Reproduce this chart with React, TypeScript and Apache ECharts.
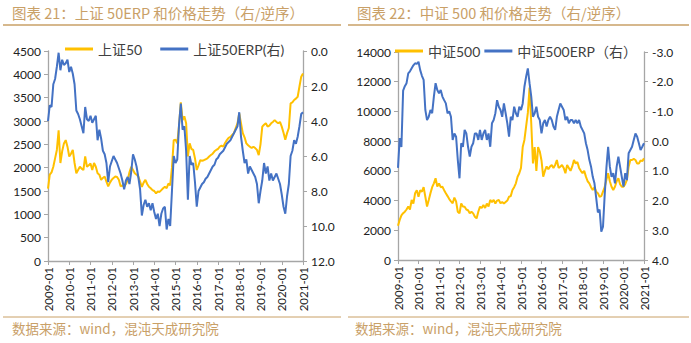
import React, { useEffect, useRef } from "react";
import * as echarts from "echarts";

// month categories 2009-01 .. 2021-01
const months: string[] = [];
for (let y = 2009; y <= 2021; y++) {
  for (let m = 1; m <= 12; m++) {
    if (y === 2021 && m > 1) break;
    months.push(`${y}-${m < 10 ? "0" + m : m}`);
  }
}

const sz50Price = [
  1550, 1850, 1900, 2020, 2200, 2380, 2800, 2100, 2350, 2520, 2590, 2450,
  2240, 2300, 2380, 2100, 1880, 1950, 2020, 1980, 1950, 2240, 2020, 2050,
  2090, 1950, 2100, 2020, 1880, 1850, 1740, 1780, 1810, 1700, 1600, 1680,
  1740, 1780, 1810, 1800, 1740, 1600, 1620, 1590, 1650, 1740, 1900, 2020,
  1950, 1880, 1850, 1810, 1700, 1590, 1680, 1740, 1650, 1590, 1560, 1520,
  1500, 1450, 1490, 1480, 1520, 1560, 1590, 1560, 1660, 1620, 2000, 2590,
  2600, 2520, 2900, 3400, 3020, 3100, 2950, 2240, 2520, 2400, 2380, 2200,
  1950, 2050, 2160, 2150, 2160, 2180, 2200, 2240, 2270, 2300, 2350, 2380,
  2400, 2450, 2470, 2450, 2530, 2590, 2640, 2660, 2700, 2740, 2850, 2950,
  3160, 2950, 2740, 2650, 2520, 2480, 2450, 2420, 2450, 2420, 2380, 2270,
  2500, 2880, 2920, 2950, 2880, 2900, 2950, 2980, 3020, 2980, 2950, 2980,
  2880, 2750, 2600, 2740, 2850, 3380, 3400, 3450, 3480, 3520, 3740, 3950,
  4020,
];

const sz50Erp = [
  4.0, 3.1, 3.2, 1.9, 1.6, 0.9, 0.1, 1.1, 0.5, 0.8, 0.7, 0.5,
  1.2, 0.9, 1.3, 1.9, 3.4, 3.6, 3.9, 4.3, 4.7, 3.2, 3.9, 4.0,
  3.7, 4.1, 3.9, 3.7, 5.1, 4.5, 5.0, 5.7, 5.9, 6.4, 7.5, 6.6,
  6.3, 6.0, 6.2, 6.4, 6.7, 7.0, 7.4, 7.9, 7.4, 7.2, 7.6, 6.9,
  5.9, 6.2, 6.6, 7.2, 7.9, 9.4, 8.8, 8.5, 8.9, 8.7, 9.1, 8.7,
  9.2, 9.6, 9.3, 10.0, 9.3, 9.0, 8.9, 10.2, 9.6, 10.0, 8.0, 6.0,
  6.4, 6.2, 4.2, 3.0, 4.5, 4.3, 5.7, 8.5, 6.0, 6.5, 6.4, 7.5,
  8.9, 8.0, 7.8, 7.6, 7.5, 7.3, 7.2, 7.0, 6.8, 6.6, 6.5, 6.2,
  6.1, 5.9, 5.8, 5.7, 5.5, 5.3, 5.2, 5.1, 4.9, 4.7, 4.5, 4.3,
  3.5, 4.9, 5.7, 6.4, 6.2, 7.0, 6.6, 6.8, 7.0, 7.2, 7.6, 8.7,
  8.0, 7.4, 6.4, 7.0, 6.6, 7.4, 7.0, 7.4, 7.2, 7.0, 7.3, 7.6,
  8.2, 8.9, 9.3, 8.3, 7.6, 6.0, 5.7, 5.1, 5.3, 4.9, 4.3, 3.6,
  3.5,
];

const zz500Price = [
  2300, 2700, 3000, 3150, 3250, 3400, 3600, 3400, 4040, 3800, 4490, 4700,
  4260, 4700, 4600, 4900, 4260, 3600, 4040, 4500, 4900, 5160, 5500, 4950,
  5150, 4900, 4930, 4700, 4490, 4300, 4100, 3950, 3820, 4200, 3950, 3250,
  3140, 3800, 3600, 3580, 3400, 3350, 3140, 3250, 3140, 2910, 2800, 3250,
  3590, 3500, 3700, 3500, 3800, 3600, 4040, 3900, 4040, 3800, 4000, 4040,
  3820, 3900, 3800, 3900, 4000, 4260, 4300, 4710, 4900, 5160, 5600, 5840,
  6200, 7600, 8080, 9000, 9900, 11600, 9200, 6500, 7600, 6000, 7600, 7300,
  6700, 5610, 6000, 6300, 6100, 6300, 6400, 6200, 6400, 6730, 6200, 6280,
  6400, 6200, 5840, 6400, 6200, 6000, 6300, 6730, 6500, 6600, 6200, 6000,
  5840, 6000, 5610, 5300, 5160, 4900, 4710, 4900, 4600, 4500, 4260, 4300,
  4600, 4900, 5400, 5840, 5300, 4930, 4710, 4930, 5300, 5500, 5100, 4930,
  4930, 5100, 5400, 6280, 6730, 6730, 6800, 6730, 6500, 6500, 6700, 6650,
  6840,
];

const zz500Erp = [
  0.9, -0.1, 0.2, -1.7, -1.85, -1.95, -2.28, -2.35, -2.45, -2.55, -2.62, -2.6,
  -2.67, -2.39, -2.2, -2.06, -1.05, -0.71, -0.82, -1.05, -0.94, -1.5, -1.95, -1.72,
  -1.61, -1.72, -1.5, -1.38, -1.27, -0.94, -1.0, -0.82, -0.04, -0.26, -0.15, 0.63,
  1.25, 0.07, 0.19, -0.38, -0.26, 0.19, 0.52, 0.19, 0.07, -0.26, -0.26, -0.04,
  -0.38, -0.04, -0.26, -0.38, -0.04, -0.26, 0.19, -0.6, -0.71, -0.94, -1.38, -1.16,
  -1.05, -0.82, -1.27, -0.94, -0.6, -0.15, -0.82, -0.71, -1.16, -0.94, -0.82, -1.16,
  -1.05, -1.27, -1.83, -2.17, -2.45, -1.95, -1.5, -0.82, -0.94, -1.16, -0.82, -0.71,
  -0.26, -0.6, -0.71, -0.49, -0.71, -0.82, -0.71, -0.49, -0.38, -0.82, -1.05, -1.27,
  -1.16, -1.05, -0.71, -0.82, -0.6, -0.71, -0.71, -0.6, -0.71, -0.6, -0.71, -0.49,
  -0.38, -0.26, 0.07, 0.3, 0.63, 0.86, 1.2, 1.42, 1.9, 2.4, 2.3, 3.05,
  2.88, 1.8, 0.9, 0.19, 0.86, 1.2, 1.08, 1.42, 0.86, 0.52, 0.86, 1.2,
  1.53, 1.08, 1.31, 0.41, 0.3, 0.19, -0.04, -0.26, -0.15, 0.07, 0.3, 0.19,
  0.07,
];

const leftNames = ["上证50", "上证50ERP(右)"];
const rightNames = ["中证500", "中证500ERP（右）"];

const YELLOW = "#FFC000";
const BLUE = "#4472C4";
const TAN = "#C9A067";
const AXIS = "#A6A6A6";
const FONT = "Lato, 'Noto Sans CJK SC', sans-serif";

export default function App() {
  const ref = useRef<HTMLDivElement>(null);
  useEffect(() => {
    if (!ref.current) return;
    const chart = echarts.init(ref.current, undefined, { renderer: "svg" });

    const xAxisCommon = (grid: number) => ({
      type: "category",
      gridIndex: grid,
      data: months,
      boundaryGap: false,
      axisLine: { lineStyle: { color: AXIS, width: 1.3 } },
      axisTick: { interval: 11, length: 4, lineStyle: { color: AXIS } },
      axisLabel: {
        interval: 11,
        rotate: 90,
        fontSize: 11.5,
        color: "#222",
        margin: 6,
        fontFamily: FONT,
      },
      splitLine: { show: false },
    });

    const yAxis = (grid: number, pos: string, min: number, max: number, interval: number, inverse: boolean, fmt: (v: number) => string) => ({
      type: "value",
      gridIndex: grid,
      position: pos,
      min,
      max,
      interval,
      inverse,
      axisLine: { show: true, lineStyle: { color: AXIS, width: 1.3 } },
      axisTick: { show: true, length: 4, lineStyle: { color: AXIS } },
      axisLabel: {
        fontSize: 12,
        color: "#222",
        margin: pos === "left" ? 7 : 8,
        fontFamily: FONT,
        formatter: fmt,
      },
      splitLine: { show: false },
    });

    const fmt0 = (v: number) => String(Math.round(v));
    const fmt1 = (v: number) => v.toFixed(1);

    const lineSeries = (name: string, x: number, y: number, data: number[], color: string) => ({
      name,
      type: "line",
      xAxisIndex: x,
      yAxisIndex: y,
      data,
      showSymbol: false,
      symbol: "none",
      lineStyle: { color, width: 2 },
      itemStyle: { color },
      emphasis: { disabled: true },
    });

    const titleFont = `14.5px 'Noto Sans CJK SC', sans-serif`;
    const srcFont = `13.5px 'Noto Sans CJK SC', sans-serif`;

    chart.setOption({
      animation: false,
      backgroundColor: "#ffffff",
      grid: [
        { left: 48, top: 51, width: 255, height: 210 },
        { left: 398, top: 52, width: 246, height: 208 },
      ],
      legend: [
        {
          data: leftNames,
          left: 60,
          top: 37,
          icon: "rect",
          itemWidth: 28,
          itemHeight: 3,
          itemGap: 18,
          textStyle: { fontSize: 14, color: "#404040", fontFamily: FONT },
        },
        {
          data: rightNames,
          left: 390,
          top: 39,
          icon: "rect",
          itemWidth: 28,
          itemHeight: 3,
          itemGap: 4,
          textStyle: { fontSize: 14, color: "#404040", fontFamily: FONT },
        },
      ],
      xAxis: [xAxisCommon(0), xAxisCommon(1)],
      yAxis: [
        yAxis(0, "left", 0, 4500, 500, false, fmt0),
        yAxis(0, "right", 0, 12, 2, true, fmt1),
        yAxis(1, "left", 0, 14000, 2000, false, fmt0),
        yAxis(1, "right", -3, 4, 1, true, fmt1),
      ],
      series: [
        lineSeries(leftNames[0], 0, 0, sz50Price, YELLOW),
        lineSeries(leftNames[1], 0, 1, sz50Erp, BLUE),
        lineSeries(rightNames[0], 1, 2, zz500Price, YELLOW),
        lineSeries(rightNames[1], 1, 3, zz500Erp, BLUE),
      ],
      graphic: [
        {
          type: "text",
          left: 12,
          top: 5,
          style: { text: "图表 21：上证 50ERP 和价格走势（右/逆序）", fill: TAN, font: titleFont },
        },
        {
          type: "text",
          left: 357,
          top: 5,
          style: { text: "图表 22：中证 500 和价格走势（右/逆序）", fill: TAN, font: titleFont },
        },
        { type: "line", shape: { x1: 3, y1: 25, x2: 341, y2: 25 }, style: { stroke: TAN, lineWidth: 1.3 } },
        { type: "line", shape: { x1: 348, y1: 25, x2: 689, y2: 25 }, style: { stroke: TAN, lineWidth: 1.3 } },
        { type: "line", shape: { x1: 3, y1: 317, x2: 341, y2: 317 }, style: { stroke: TAN, lineWidth: 1 } },
        { type: "line", shape: { x1: 348, y1: 317, x2: 689, y2: 317 }, style: { stroke: TAN, lineWidth: 1 } },
        {
          type: "text",
          left: 12,
          top: 321,
          style: { text: "数据来源：wind，混沌天成研究院", fill: TAN, font: srcFont },
        },
        {
          type: "text",
          left: 355,
          top: 321,
          style: { text: "数据来源：wind，混沌天成研究院", fill: TAN, font: srcFont },
        },
      ],
    });

    return () => chart.dispose();
  }, []);

  return (
    <div
      ref={ref}
      style={{ position: "absolute", left: 0, top: 0, width: 691, height: 343 }}
    />
  );
}
